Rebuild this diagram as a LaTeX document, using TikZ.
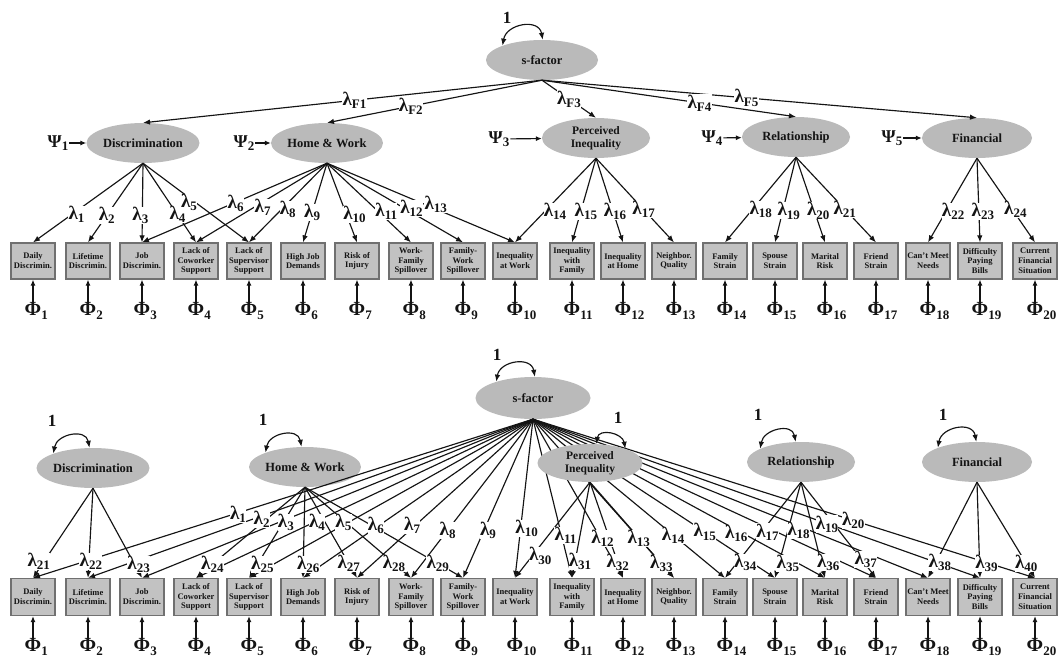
\documentclass[tikz,border=0pt]{standalone}
\usepackage{fontspec}
\setmainfont{Liberation Serif}
\usetikzlibrary{shapes.geometric,arrows.meta}
\definecolor{latfill}{RGB}{186,186,186}
\definecolor{boxfill}{RGB}{194,194,194}
\definecolor{boxline}{RGB}{112,112,112}
\definecolor{ink}{RGB}{20,20,20}
\pgfdeclarelayer{canvas}
\pgfdeclarelayer{ellipses}
\pgfdeclarelayer{paths}
\pgfdeclarelayer{labels}
\pgfsetlayers{canvas,ellipses,paths,labels,main}
% lowered subscripts for the Greek symbols
\newcommand\sbs[1]{\raisebox{-0.35ex}{\fontsize{13}{13}\selectfont #1}}
\newcommand\lamb[1]{λ\sbs{#1}}
\newcommand\psib[1]{Ψ\sbs{#1}}
% a loading: arrow from factor to indicator, label knocked out on top
% #3 = position along the arrow, #5 = sideways nudge of the label
\newcommand\loadline[5]{%
  \begin{pgfonlayer}{paths}\draw[load] (#1) -- (#2);\end{pgfonlayer}%
  \begin{pgfonlayer}{labels}\path (#1) -- node[lam,pos=#3,xshift=#5pt]{\lamb{#4}} (#2);\end{pgfonlayer}}
\tikzset{
  lat/.style={ellipse, fill=latfill, minimum width=108pt, minimum height=40pt,
    inner sep=0pt, align=center, font=\fontsize{12.5}{13}\selectfont\bfseries, text=ink},
  obs/.style={rectangle, draw=boxline, fill=boxfill, line width=1.2pt,
    minimum width=44pt, minimum height=36pt, inner sep=0pt, align=center,
    font=\fontsize{8.5}{9.8}\selectfont\bfseries, text=ink},
  lam/.style={fill=white, inner sep=0.3pt, font=\fontsize{19}{19}\selectfont\bfseries, text=ink},
  err/.style={inner sep=1pt, font=\fontsize{20}{20}\selectfont\bfseries, text=ink},
  psi/.style={inner sep=1pt, font=\fontsize{18}{18}\selectfont\bfseries, text=ink},
  one/.style={inner sep=0pt, font=\fontsize{17}{17}\selectfont\bfseries, text=ink},
  load/.style={draw=ink, line width=1.15pt, -{Latex[length=7pt,width=5.5pt]}},
  errar/.style={draw=ink, line width=1.15pt, -{Latex[length=6pt,width=5pt]}},
  dbl/.style={draw=ink, line width=1.15pt,
    {Latex[length=7pt,width=5.5pt]}-{Latex[length=7pt,width=5.5pt]}},
}
\begin{document}
\begin{tikzpicture}[x=1pt,y=1pt]
\begin{pgfonlayer}{canvas}
  \fill[white] (0,0) rectangle (1061,-659);
\end{pgfonlayer}
\useasboundingbox (0,0) rectangle (1061,-659);

% ---------- latent factors ----------
\begin{pgfonlayer}{ellipses}
  % higher-order model
  \node[lat, minimum width=112pt] (ts) at (542,-60) {s-factor};
  \node[lat, minimum width=107pt] (td) at (143,-143) {Discrimination};
  \node[lat, minimum width=105pt] (th) at (327,-143) {Home \& Work};
  \node[lat, minimum width=108pt, font=\fontsize{11.5}{12.5}\selectfont\bfseries] (tp) at (596,-138) {Perceived\\Inequality};
  \node[lat] (tr) at (796,-137) {Relationship};
  \node[lat, minimum width=110pt] (tf) at (977,-138) {Financial};
  % bifactor model
  \node[lat, minimum width=115pt, minimum height=42pt] (bs) at (533,-398) {s-factor};
  \node[lat, minimum width=109pt] (bd) at (93,-468) {Discrimination};
  \node[lat, minimum width=105pt] (bh) at (305,-467) {Home \& Work};
  \node[lat] (br) at (801,-462) {Relationship};
  \node[lat, minimum width=110pt] (bf) at (977,-462) {Financial};
\end{pgfonlayer}
% this factor sits over the general-factor fan
\begin{pgfonlayer}{labels}
  \node[lat, minimum width=105pt, minimum height=38pt, font=\fontsize{11.5}{12.5}\selectfont\bfseries] (bp) at (590,-463) {Perceived\\Inequality};
\end{pgfonlayer}

% ---------- indicators with their residuals ----------
\foreach \i/\x/\txt in {
  1/33/{Daily\\Discrimin.},
  2/88/{Lifetime\\Discrimin.},
  3/142/{Job\\Discrimin.},
  4/196/{Lack of\\Coworker\\Support},
  5/249/{Lack of\\Supervisor\\Support},
  6/303/{High Job\\Demands},
  7/357/{Risk of\\Injury},
  8/411/{Work-\\Family\\Spillover},
  9/463/{Family-\\Work\\Spillover},
  10/515/{Inequality\\at Work},
  11/572/{Inequality\\with\\Family},
  12/623/{Inequality\\at Home},
  13/674/{Neighbor.\\Quality},
  14/725/{Family\\Strain},
  15/775/{Spouse\\Strain},
  16/825/{Marital\\Risk},
  17/876/{Friend\\Strain},
  18/928/{Can't Meet\\Needs},
  19/980/{Difficulty\\Paying\\Bills},
  20/1035/{Current\\Financial\\Situation}}{
  \node[obs] (t\i) at (\x,-261) {\txt};
  \node[obs, minimum height=37pt] (b\i) at (\x,-597) {\txt};
  \node[err] (te\i) at (\x,-311) {Φ\rlap{\sbs{\i}}};
  \node[err] (be\i) at (\x,-647) {Φ\rlap{\sbs{\i}}};
  \draw[errar] (te\i) -- (t\i);
  \draw[errar] (be\i) -- (b\i);
}

% ---------- higher-order model: second-order loadings ----------
\foreach \f/\p/\n in {td/0.47/F1, th/0.61/F2, tp/0.5/F3, tr/0.62/F4, tf/0.47/F5}{
  \loadline{ts.south}{\f.north}{\p}{\n}{0}}

% first-order loadings
\foreach \f/\b/\p/\n/\s in {
  td/1/0.65/1/5, td/2/0.66/2/0, td/3/0.66/3/-2, td/4/0.65/4/0, td/5/0.5/5/-7,
  th/3/0.51/6/3, th/4/0.56/7/9, th/5/0.58/8/6, th/6/0.62/9/0, th/7/0.65/10/8,
  th/8/0.61/11/8, th/9/0.57/12/7, th/10/0.52/13/11,
  tp/10/0.63/14/10, tp/11/0.63/15/5, tp/12/0.63/16/2, tp/13/0.61/17/0,
  tr/14/0.61/18/8, tr/15/0.63/19/6, tr/16/0.63/20/4, tr/17/0.61/21/0,
  tf/18/0.63/22/7, tf/19/0.63/23/4, tf/20/0.61/24/3}{
  \loadline{\f.south}{t\b.north}{\p}{\n}{\s}}

% factor disturbances
\node[psi] (ps1) at (58,-143) {\psib{1}};
\node[psi] (ps2) at (244,-143) {\psib{2}};
\node[psi] (ps3) at (499,-139) {\psib{3}};
\node[psi] (ps4) at (712,-138) {\psib{4}};
\node[psi] (ps5) at (892,-138) {\psib{5}};
\draw[errar] (ps1) -- (td);
\draw[errar] (ps2) -- (th);
\draw[errar] (ps3) -- (tp);
\draw[errar] (ps4) -- (tr);
\draw[errar] (ps5) -- (tf);

% variance of the s-factor
\draw[dbl] (ts.160) to[out=80,in=100,looseness=1.4] (ts.88);
\node[one] (v0) at (507,-18) {1};

% ---------- bifactor model: general loadings ----------
\foreach \b/\p/\s in {1/0.60/5, 2/0.63/9, 3/0.65/7, 4/0.65/3, 5/0.65/-5,
  6/0.67/-3, 7/0.67/-3, 8/0.70/0, 9/0.70/4, 10/0.69/6, 11/0.73/4,
  12/0.75/2, 13/0.75/0, 14/0.73/0, 15/0.71/0, 16/0.72/-7, 17/0.71/-9,
  18/0.70/-11, 19/0.66/-1, 20/0.64/-1}{
  \loadline{bs.south}{b\b.north}{\p}{\b}{\s}}

% specific loadings
\foreach \f/\b/\p/\n/\s in {
  bd/1/0.82/21/-5, bd/2/0.82/22/2, bd/3/0.85/23/4,
  bh/4/0.85/24/0, bh/5/0.85/25/5, bh/6/0.85/26/5, bh/7/0.84/27/0,
  bh/8/0.84/28/0, bh/9/0.84/29/0,
  bp/10/0.77/30/8, bp/11/0.83/31/5, bp/12/0.84/32/0, bp/13/0.85/33/0,
  br/14/0.84/34/8, br/15/0.85/35/9, br/16/0.84/36/7, br/17/0.81/37/4,
  bf/18/0.84/38/4, bf/19/0.85/39/7, bf/20/0.85/40/0}{
  \loadline{\f.south}{b\b.north}{\p}{\n}{\s}}

% unit variances
\draw[dbl] (bs.156) to[out=80,in=100,looseness=1.4] (bs.85);
\node[one] (v1) at (497,-355) {1};
\draw[dbl] (bd.160) to[out=80,in=100,looseness=1.4] (bd.100);
\node[one] (v2) at (52,-421) {1};
\draw[dbl] (bh.160) to[out=80,in=100,looseness=1.4] (bh.100);
\node[one] (v3) at (263,-420) {1};
\draw[dbl] (bp.72) to[out=80,in=100,looseness=1.4] (bp.22);
\node[one] (v4) at (618,-418) {1};
\draw[dbl] (br.162) to[out=80,in=100,looseness=1.4] (br.105);
\node[one] (v5) at (758,-415) {1};
\draw[dbl] (bf.160) to[out=80,in=100,looseness=1.4] (bf.92);
\node[one] (v6) at (943,-415) {1};
\end{tikzpicture}
\end{document}
